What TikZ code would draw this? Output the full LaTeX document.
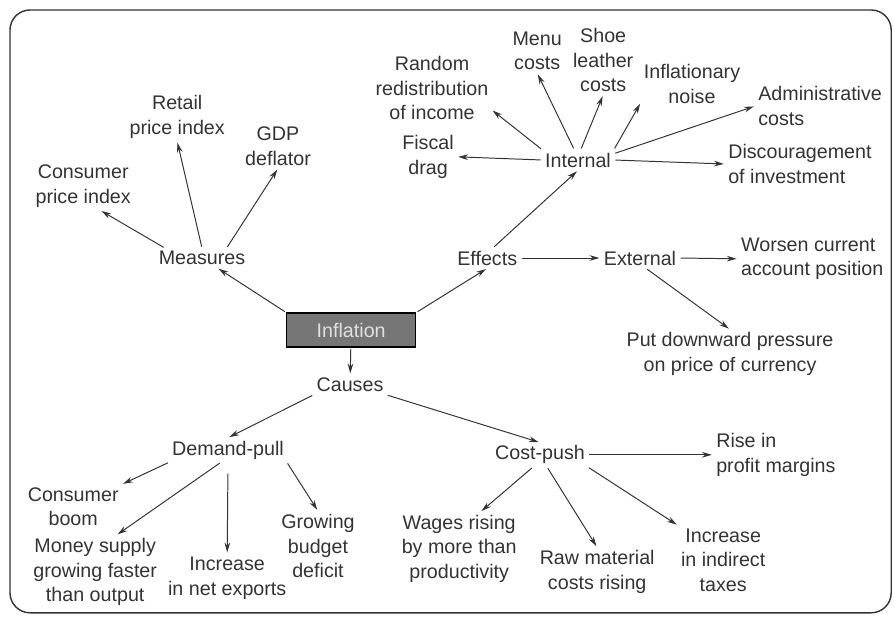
\documentclass[tikz,border=0pt]{standalone}
\usepackage{fontspec}
\setmainfont{Liberation Sans}
\usetikzlibrary{arrows.meta}
\definecolor{ink}{HTML}{333333}
\definecolor{boxgray}{HTML}{767676}

\begin{document}
\begin{tikzpicture}[every node/.style={text=ink, font=\fontsize{14}{17.5}\selectfont, align=center, inner sep=2pt},
        arr/.style={draw=ink, line width=0.7pt, -{Stealth[length=7pt,width=4pt]}, shorten >=1pt, shorten <=1pt},
        leftnode/.style={anchor=west, align=left}]
            \useasboundingbox (0, 0) rectangle (22.35, 15.4);
            \draw[ink, line width=1pt, rounded corners=0.5cm] (0.25, 0.08) rectangle (22.28, 15.15);

            \node[draw=black, line width=0.8pt, fill=boxgray, text=white!88!black, minimum width=3.23cm, minimum height=0.85cm] (Inf) at (8.78, 7.15) {Inflation};

            \node (M0) at (5.05, 8.95) {Measures};
            \node (M1) at (2.08, 10.75) {Consumer\\price index};
            \node (M2) at (4.43, 12.48) {Retail\\price index};
            \node (M3) at (6.95, 11.75) {GDP\\deflator};

            \draw[arr] (Inf.north west) -- (M0);
            \draw[arr] (M0.165) -- (M1.-55);
            \draw[arr] (M0.north) -- (M2.south);
            \draw[arr] (M0.22) -- (M3.south);

            \node (E0) at (12.18, 8.95) {Effects};
            \node (I0) at (14.45, 11.40) {Internal};
            \node (I1) at (10.80, 13.20) {Random\\redistribution\\of income};
            \node (I2) at (10.70, 11.48) {Fiscal\\drag};
            \node (I3) at (13.43, 14.13) {Menu\\costs};
            \node (I4) at (15.08, 13.90) {Shoe\\leather\\costs};
            \node (I5) at (17.30, 13.30) {Inflationary\\noise};
            \node[leftnode] (I6) at (18.88, 12.75) {Administrative\\costs};
            \node[leftnode] (I7) at (18.13, 11.30) {Discouragement\\of investment};
            \node (X0) at (16.00, 8.95) {External};
            \node[leftnode] (X1) at (18.45, 8.93) {Worsen current\\account position};
            \node (X2) at (18.25, 6.55) {Put downward pressure\\on price of currency};

            \draw[arr] (Inf.north east) -- (E0.south);
            \draw[arr] (E0) -- (X0);
            \draw[arr] (E0.60) -- (I0.south);
            \draw[arr] (I0.west) -- (I2.east);
            \draw[arr] (I0.north west) -- (I1.-20);
            \draw[arr] (I0.110) -- (I3.south);
            \draw[arr] (I0.75) -- (I4.south);
            \draw[arr] (I0.north east) -- (I5.200);
            \draw[arr] (I0.10) -- (I6.west);
            \draw[arr] (I0.east) -- (I7.west);
            \draw[arr] (X0.east) -- (X1.west);
            \draw[arr] (X0.-60) -- (X2.north);

            \node (C0) at (8.75, 5.78) {Causes};
            \node (D0) at (5.70, 4.15) {Demand-pull};
            \node (D1) at (1.83, 2.73) {Consumer\\boom};
            \node (D2) at (2.38, 1.10) {Money supply\\growing faster\\than output};
            \node (D3) at (5.68, 0.95) {Increase\\in net exports};
            \node (D4) at (7.95, 1.75) {Growing\\budget\\deficit};
            \node (P0) at (13.50, 4.03) {Cost-push};
            \node[leftnode] (P1) at (17.83, 4.03) {Rise in\\profit margins};
            \node (P2) at (11.48, 1.68) {Wages rising\\by more than\\productivity};
            \node (P3) at (14.93, 1.10) {Raw material\\costs rising};
            \node (P4) at (18.08, 1.40) {Increase\\in indirect\\taxes};

            \draw[arr] (Inf) -- (C0);
            \draw[arr] (C0.south west) -- (D0.north);
            \draw[arr] (C0.south east) -- (P0.north);
            \draw[arr] (D0.south west) -- (D1.north east);
            \draw[arr] (D0.-120) -- (D2.60);
            \draw[arr, shorten <=8pt] (D0.south) -- (D3.north);
            \draw[arr] (D0.south east) -- (D4.north);
            \draw[arr] (P0.east) -- (P1.west);
            \draw[arr] (P0.-120) -- (P2.60);
            \draw[arr] (P0.-60) -- (P3.north);
            \draw[arr] (P0.south east) -- (P4.north west);
            
        \end{tikzpicture}
\end{document}
